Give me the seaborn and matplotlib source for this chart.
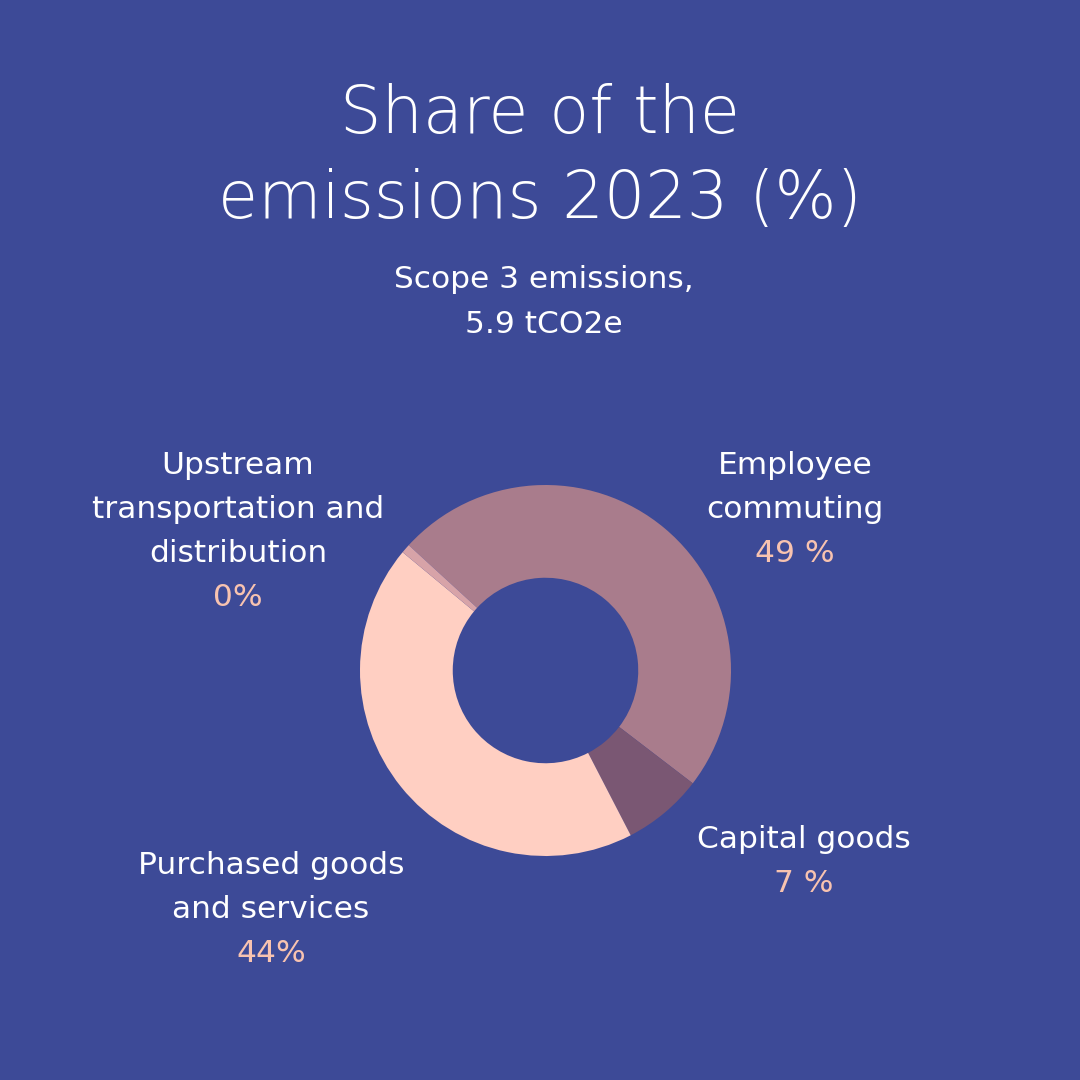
import matplotlib
matplotlib.use("Agg")
import matplotlib.pyplot as plt
import seaborn as sns

# ---- data ----
categories = ["Employee\ncommuting", "Capital goods",
              "Purchased goods\nand services",
              "Upstream\ntransportation and\ndistribution"]
values = [48.6, 7.0, 43.6, 0.8]
value_labels = ["49 %", "7 %", "44%", "0%"]
title_lines = ["Share of the", "emissions 2023 (%)"]
subtitle_lines = ["Scope 3 emissions,", "5.9 tCO2e"]

# ---- style ----
BG = "#3D4A97"
slice_colors = ["#A97C8C", "#7A5773", "#FFCFC2", "#D7A3A8"]
PINK = "#F8C3B0"
WHITE = "#FFFFFF"

sns.set_theme(style="white")
plt.rcParams["font.family"] = ["DejaVu Sans"]

W = H = 1080
fig = plt.figure(figsize=(10.8, 10.8), dpi=100, facecolor=BG)

def fx(px):
    return px / W

def fy(py):
    return 1 - py / H

# donut axes
cx, cy, R = 545.5, 670.5, 185.5
ax = fig.add_axes([fx(cx - R), fy(cy + R), 2 * R / W, 2 * R / H])
ax.set_facecolor(BG)
ax.pie(values, colors=slice_colors, startangle=137.5, counterclock=False,
       radius=1.0, wedgeprops=dict(width=0.5, edgecolor="none", linewidth=0))
ax.set_xlim(-1, 1)
ax.set_ylim(-1, 1)
ax.set_aspect("equal")
ax.axis("off")

# title
title_baselines = [133, 218]
for line, yb in zip(title_lines, title_baselines):
    fig.text(0.5, fy(yb), line, ha="center", va="baseline", color=WHITE,
             fontsize=47, fontweight="light")

# subtitle
sub_centers = [277, 321]
for line, yc in zip(subtitle_lines, sub_centers):
    fig.text(fx(544), fy(yc), line, ha="center", va="center_baseline",
             color=WHITE, fontsize=22.5)

# labels
label_pos = [(795, 463), (804, 837), (271, 863), (238, 463)]
step = 44
for name, val, (x, y0) in zip(categories, value_labels, label_pos):
    lines = name.split("\n")
    for i, ln in enumerate(lines):
        fig.text(fx(x), fy(y0 + i * step), ln, ha="center",
                 va="center_baseline", color=WHITE, fontsize=22.5)
    fig.text(fx(x), fy(y0 + len(lines) * step), val, ha="center",
             va="center_baseline", color=PINK, fontsize=22.5)

fig.savefig("out.png", dpi=100, facecolor=BG)
